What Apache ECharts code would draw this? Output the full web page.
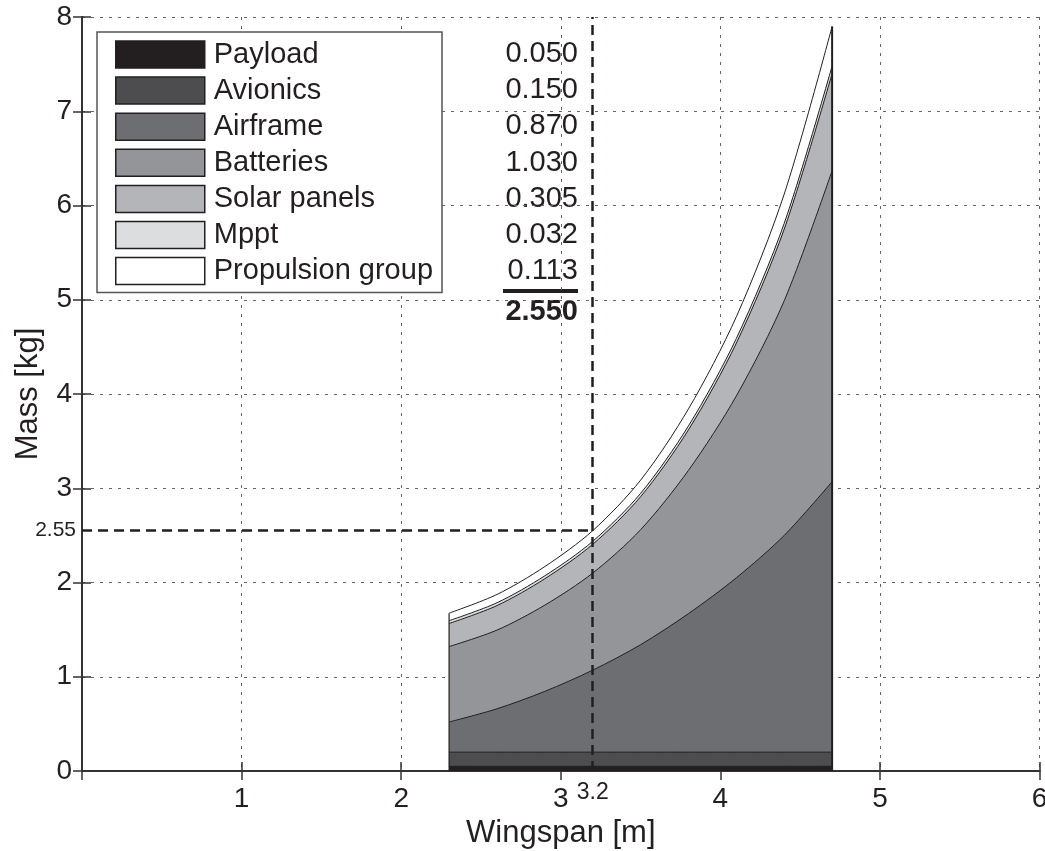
<!doctype html>
<html>
<head>
<meta charset="utf-8">
<title>Mass breakdown vs wingspan</title>
<style>
  html, body { margin: 0; padding: 0; background: #fff; }
  #chart { width: 1045px; height: 851px; }
</style>
</head>
<body>
<div id="chart"></div>
<script src="https://cdn.jsdelivr.net/npm/echarts@6/dist/echarts.min.js"></script>
<script>
// data (kg per component)
var wingspan   = [2.3, 2.6, 2.9, 3.2, 3.5, 3.8, 4.1, 4.4, 4.7];
var payload    = [0.05, 0.05, 0.05, 0.05, 0.05, 0.05, 0.05, 0.05, 0.05];
var avionics   = [0.15, 0.15, 0.15, 0.15, 0.15, 0.15, 0.15, 0.15, 0.15];
var airframe   = [0.32, 0.46, 0.645, 0.87, 1.14, 1.47, 1.85, 2.30, 2.87];
var batteries  = [0.80, 0.835, 0.915, 1.03, 1.22, 1.52, 1.93, 2.49, 3.30];
var solarPanels = [0.245, 0.26, 0.28, 0.305, 0.35, 0.43, 0.56, 0.76, 1.03];
var mppt       = [0.030, 0.030, 0.031, 0.032, 0.036, 0.042, 0.050, 0.062, 0.080];
var propulsion = [0.080, 0.088, 0.098, 0.113, 0.14, 0.18, 0.23, 0.31, 0.42];

var names  = ['Payload', 'Avionics', 'Airframe', 'Batteries', 'Solar panels', 'Mppt', 'Propulsion group'];
var values = ['0.050', '0.150', '0.870', '1.030', '0.305', '0.032', '0.113'];
var total  = '2.550';
var designSpan = 3.2;
var designMass = 2.55;

var fills = ['#231f20', '#4d4d4f', '#6d6e71', '#939598', '#b4b5b8', '#dcddde', '#ffffff'];
var comps = [payload, avionics, airframe, batteries, solarPanels, mppt, propulsion];
var FONT = '"Liberation Sans", Arial, sans-serif';
var INK = '#231f20';

// running totals so each band sits on the one below
var running = wingspan.map(function () { return 0; });
var cumul = comps.map(function (c) {
    running = running.map(function (s, i) { return s + c[i]; });
    return running.slice();
});
var last = wingspan.length - 1;
var sums = cumul[cumul.length - 1];

function pairs(arr) {
    return wingspan.map(function (x, i) { return [x, arr[i]]; });
}

// draw the top band first, each filled down to zero, so lower bands overpaint
var series = [];
for (var k = comps.length - 1; k >= 0; k--) {
    series.push({
        name: names[k],
        type: 'line',
        smooth: 0.3,
        symbol: 'none',
        data: pairs(cumul[k]),
        itemStyle: { color: fills[k] },
        lineStyle: { color: INK, width: 1 },
        areaStyle: { color: fills[k], opacity: 1, origin: 'start' },
        emphasis: { disabled: true }
    });
}

// outline edges of the block
series.push({
    type: 'line', symbol: 'none', silent: true,
    data: [[wingspan[0], 0], [wingspan[0], sums[0]]],
    lineStyle: { color: INK, width: 1.2 }
});
series.push({
    type: 'line', symbol: 'none', silent: true,
    data: [[wingspan[last], 0], [wingspan[last], sums[last]]],
    lineStyle: { color: INK, width: 2 },
    markLine: {
        silent: true,
        symbol: 'none',
        lineStyle: { color: INK, width: 2.5, type: [10, 6] },
        data: [
            {
                xAxis: designSpan,
                label: { show: true, position: 'start', formatter: String(designSpan),
                         fontSize: 23, color: INK, fontFamily: FONT, distance: 10 }
            },
            [
                { coord: [0, designMass],
                  label: { show: true, position: 'start', formatter: String(designMass),
                           fontSize: 21, color: INK, fontFamily: FONT, distance: 6 } },
                { coord: [designSpan, designMass] }
            ]
        ]
    }
});

var graphics = values.map(function (v, i) {
    return {
        type: 'text', x: 578, y: 54 + i * 36.2,
        style: { text: v, font: '29px ' + FONT, fill: INK, textAlign: 'right', textVerticalAlign: 'middle' }
    };
});
graphics.push({
    type: 'rect', shape: { x: 503, y: 289, width: 75, height: 4 },
    style: { fill: INK }
});
graphics.push({
    type: 'text', x: 578, y: 312,
    style: { text: total, font: 'bold 29px ' + FONT, fill: INK, textAlign: 'right', textVerticalAlign: 'middle' }
});

var chart = echarts.init(document.getElementById('chart'));
chart.setOption({
    backgroundColor: '#ffffff',
    animation: false,
    grid: { left: 82, top: 17, right: 5.4, bottom: 80, containLabel: false, outerBoundsMode: 'none' },
    legend: {
        data: names,
        orient: 'vertical',
        left: 97, top: 32,
        padding: [8, 9, 7, 18],
        itemWidth: 89, itemHeight: 27, itemGap: 7.1,
        icon: 'rect',
        selectedMode: false,
        backgroundColor: '#ffffff',
        borderColor: '#555',
        borderWidth: 1.5,
        borderRadius: 0,
        itemStyle: { borderColor: INK, borderWidth: 1.5 },
        textStyle: { fontSize: 29, color: INK, fontFamily: FONT, padding: [0, 0, 0, 4] }
    },
    xAxis: [{
        type: 'value', min: 0, max: 6, interval: 1,
        name: 'Wingspan [m]', nameLocation: 'middle', nameGap: 36,
        nameTextStyle: { fontSize: 31, color: INK, fontFamily: FONT },
        axisLine: { lineStyle: { color: '#333', width: 2 } },
        axisTick: { inside: true, length: 9, lineStyle: { color: '#333', width: 1.5 } },
        axisLabel: { fontSize: 28, color: INK, fontFamily: FONT, margin: 14, showMinLabel: false },
        splitLine: { show: true, lineStyle: { color: '#666', width: 1, type: [3, 6] } }
    }, {
        type: 'value', min: 0, max: 6, interval: 1, position: 'top',
        axisLine: { lineStyle: { color: '#333', width: 2 } },
        axisTick: { inside: true, length: 9, lineStyle: { color: '#333', width: 1.5 } },
        axisLabel: { show: false },
        splitLine: { show: false }
    }],
    yAxis: [{
        type: 'value', min: 0, max: 8, interval: 1,
        name: 'Mass [kg]', nameLocation: 'middle', nameGap: 38,
        nameTextStyle: { fontSize: 31, color: INK, fontFamily: FONT },
        axisLine: { show: true, lineStyle: { color: '#333', width: 2 } },
        axisTick: { show: true, inside: true, length: 9, lineStyle: { color: '#333', width: 1.5 } },
        axisLabel: { fontSize: 28, color: INK, fontFamily: FONT, margin: 10 },
        splitLine: { show: true, lineStyle: { color: '#666', width: 1, type: [3, 6] } }
    }, {
        type: 'value', min: 0, max: 8, interval: 1, position: 'right',
        axisLine: { show: true, lineStyle: { color: '#333', width: 2 } },
        axisTick: { show: true, inside: true, length: 9, lineStyle: { color: '#333', width: 1.5 } },
        axisLabel: { show: false },
        splitLine: { show: false }
    }],
    series: series,
    graphic: graphics
});
</script>
</body>
</html>
